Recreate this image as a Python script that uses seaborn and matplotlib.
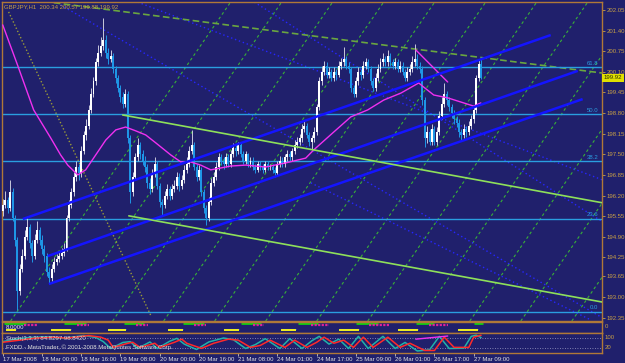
import numpy as np
import pandas as pd
import matplotlib
matplotlib.use("Agg")
import matplotlib.pyplot as plt
import matplotlib.transforms as mtransforms
import seaborn as sns

# ---------------- data ----------------
first_open = 195.70
closes = [
    195.90, 196.05, 195.80, 196.30, 195.50, 194.80, 193.20, 193.90, 194.30, 194.90,
    195.20, 194.70, 194.30, 194.80, 195.10, 194.80, 194.50, 194.30, 193.80, 193.60,
    193.90, 194.10, 194.20, 194.30, 194.40, 194.50, 195.50, 195.90, 196.30, 196.80,
    197.10, 196.90, 197.60, 198.10, 198.40, 198.90, 199.40, 199.80, 200.40, 200.70,
    200.90, 201.10, 200.70, 200.50, 200.60, 200.20, 199.90, 199.60, 199.30, 199.10,
    199.40, 198.00, 196.30, 196.80, 197.40, 197.80, 197.50, 197.30, 197.10, 196.60,
    196.40, 196.90, 197.20, 196.50, 196.00, 195.90, 196.20, 196.40, 196.20, 196.40,
    196.50, 196.80, 196.50, 196.70, 197.00, 197.20, 197.60, 197.80, 197.10, 196.80,
    197.00, 196.30, 195.80, 195.50, 196.00, 196.60, 196.80, 197.10, 197.40, 197.30,
    197.20, 197.40, 197.20, 197.50, 197.70, 197.60, 197.80, 197.50, 197.30, 197.50,
    197.20, 197.30, 197.10, 197.00, 197.20, 197.10, 197.00, 197.20, 197.10, 197.10,
    197.00, 196.90, 197.20, 197.30, 197.20, 197.40, 197.50, 197.40, 197.60, 197.80,
    197.90, 198.00, 198.30, 198.40, 198.10, 197.90, 198.00, 198.20, 199.00, 199.80,
    200.10, 200.30, 200.00, 200.10, 199.90, 200.10, 200.00, 200.30, 200.40, 200.50,
    200.30, 200.20, 199.60, 199.40, 199.80, 200.10, 200.00, 200.30, 200.40, 200.20,
    199.80, 199.60, 199.90, 200.20, 200.40, 200.50, 200.40, 200.60, 200.40, 200.30,
    200.40, 200.20, 200.30, 200.10, 199.90, 200.10, 200.20, 200.40, 200.50, 200.30,
    200.20, 199.20, 198.00, 198.20, 197.90, 198.30, 197.90, 198.20, 198.70, 199.10,
    199.40, 199.20, 199.00, 198.80, 198.60, 198.50, 198.20, 198.10, 198.30, 198.20,
    198.40, 198.60, 198.90, 199.90, 200.34, 199.92,
]
highs = [
    196.10, 196.35, 196.15, 196.69, 196.45, 195.60, 194.90, 194.05, 194.50, 195.10,
    195.50, 195.30, 194.80, 195.00, 195.40, 195.20, 194.95, 194.65, 194.40, 193.95,
    194.05, 194.25, 194.35, 194.45, 194.55, 194.70, 195.60, 196.05, 196.45, 196.95,
    197.30, 197.20, 197.75, 198.25, 198.60, 199.05, 199.60, 199.95, 200.55, 200.95,
    201.20, 201.80, 201.25, 200.85, 200.80, 200.70, 200.30, 200.00, 199.70, 199.45,
    199.55, 199.50, 198.10, 196.95, 197.55, 198.00, 197.90, 197.65, 197.45, 197.20,
    196.75, 197.05, 197.40, 197.30, 196.60, 196.10, 196.35, 196.55, 196.50, 196.55,
    196.70, 196.95, 196.90, 196.85, 197.15, 197.40, 197.75, 198.27, 197.90, 197.20,
    197.15, 197.10, 196.40, 195.90, 196.15, 196.75, 196.95, 197.25, 197.55, 197.50,
    197.40, 197.55, 197.50, 197.65, 197.85, 197.80, 197.90, 197.85, 197.60, 197.60,
    197.55, 197.40, 197.40, 197.20, 197.30, 197.30, 197.20, 197.30, 197.30, 197.20,
    197.20, 197.10, 197.30, 197.45, 197.40, 197.50, 197.65, 197.60, 197.70, 197.95,
    198.05, 198.15, 198.45, 198.55, 198.50, 198.20, 198.10, 198.35, 199.10, 199.95,
    200.30, 200.45, 200.40, 200.25, 200.20, 200.25, 200.20, 200.45, 200.55, 200.88,
    200.60, 200.40, 200.25, 199.70, 199.95, 200.25, 200.20, 200.45, 200.55, 200.50,
    200.30, 199.90, 200.05, 200.35, 200.55, 200.70, 200.60, 200.80, 200.70, 200.50,
    200.55, 200.50, 200.45, 200.40, 200.20, 200.25, 200.35, 200.60, 200.98, 200.65,
    200.40, 200.30, 199.30, 198.40, 198.30, 198.45, 198.40, 198.35, 198.85, 199.30,
    199.75, 199.50, 199.30, 199.10, 198.90, 198.70, 198.60, 198.30, 198.45, 198.40,
    198.55, 198.75, 199.05, 200.00, 200.50, 200.57,
]
lows = [
    195.55, 195.80, 195.65, 195.70, 195.40, 194.60, 192.60, 193.05, 193.80, 194.20,
    194.80, 194.55, 194.10, 194.20, 194.70, 194.65, 194.35, 194.10, 193.65, 193.44,
    193.50, 193.80, 194.00, 194.10, 194.20, 194.30, 194.45, 195.40, 195.80, 196.20,
    196.65, 196.70, 196.80, 197.50, 197.95, 198.30, 198.80, 199.30, 199.70, 200.30,
    200.60, 200.80, 200.55, 200.35, 200.40, 200.05, 199.75, 199.45, 199.15, 198.95,
    199.00, 197.85, 195.97, 196.20, 196.70, 197.30, 197.35, 197.15, 196.95, 196.45,
    196.25, 196.30, 196.80, 196.40, 195.85, 195.59, 195.80, 196.10, 196.05, 196.10,
    196.30, 196.40, 196.35, 196.40, 196.60, 196.90, 197.10, 197.50, 197.00, 196.65,
    196.70, 196.20, 195.65, 195.27, 195.40, 195.90, 196.50, 196.70, 197.00, 197.15,
    197.05, 197.10, 197.10, 197.10, 197.40, 197.45, 197.50, 197.40, 197.20, 197.20,
    197.10, 197.10, 197.00, 196.90, 196.95, 197.00, 196.90, 196.95, 197.00, 197.00,
    196.90, 196.78, 196.85, 197.10, 197.10, 197.10, 197.30, 197.30, 197.30, 197.50,
    197.70, 197.80, 197.90, 198.20, 198.00, 197.75, 197.64, 197.90, 198.10, 198.90,
    199.70, 200.00, 199.90, 199.90, 199.80, 199.80, 199.85, 199.95, 200.20, 200.30,
    200.20, 200.05, 199.45, 199.30, 199.30, 199.70, 199.85, 199.90, 200.20, 200.10,
    199.70, 199.50, 199.50, 199.80, 200.10, 200.30, 200.30, 200.30, 200.30, 200.20,
    200.20, 200.10, 200.10, 200.00, 199.80, 199.80, 200.00, 200.10, 200.30, 200.20,
    200.05, 199.05, 197.73, 197.85, 197.80, 197.80, 197.80, 197.80, 198.10, 198.60,
    199.00, 199.05, 198.85, 198.65, 198.45, 198.35, 198.05, 197.95, 198.00, 198.05,
    198.10, 198.30, 198.50, 198.80, 199.80, 199.88,
]

ma_bars = [0, 3.0, 6.1, 12.6, 19.6, 23.6, 26.5, 30.6, 33.8, 37.9, 42.0, 46.1, 50.1, 54.2,
           58.3, 62.4, 68.5, 72.6, 76.6, 80.7, 84.8, 88.9, 92.9, 99.1, 107.2, 115.4,
           123.5, 126.8, 134.9, 141.9, 148.8, 155.3, 162.3, 169.6, 171.6, 175.7, 181.4,
           186.7, 192.0, 194.9]
ma_vals = [201.58, 200.95, 200.30, 198.90, 198.01, 197.48, 197.16, 196.85, 197.01,
           197.48, 197.95, 198.27, 198.36, 198.24, 198.11, 197.86, 197.48, 197.26,
           197.26, 197.16, 197.01, 197.07, 197.13, 197.16, 197.10, 197.23, 197.38,
           197.64, 198.20, 198.68, 198.90, 199.21, 199.43, 199.75, 199.62, 199.37,
           199.28, 199.15, 199.02, 199.12]

fib_levels = [192.54, 195.47, 197.29, 198.77, 200.25]
fib_labels = ["0.0", "23.6", "38.2", "50.0", "61.8"]

price_ticks = [202.05, 201.40, 200.75, 200.10, 199.45, 198.80, 198.15, 197.50, 196.85,
               196.20, 195.55, 194.90, 194.25, 193.65, 193.00, 192.35]

date_bars = [0, 16, 32, 48, 64, 80, 96, 112, 128, 144, 160, 176, 192]
date_labels = ["17 Mar 2008", "18 Mar 00:00", "18 Mar 16:00", "19 Mar 08:00",
               "20 Mar 00:00", "20 Mar 16:00", "21 Mar 08:00", "24 Mar 01:00",
               "24 Mar 17:00", "25 Mar 09:00", "26 Mar 01:00", "26 Mar 17:00",
               "27 Mar 09:00"]

# drawn objects (bar, price) end points
blue_channel = [((8.2, 195.46), (223.4, 201.26)),
                ((18.3, 194.29), (234.4, 200.13)),
                ((18.8, 193.41), (236.4, 199.24))]
green_channel = [((48.9, 198.74), (244.6, 195.97)),
                 ((51.4, 195.56), (244.6, 192.84))]
green_dash_line = ((20.8, 202.28), (244.6, 200.06))
olive_dotted = ((2.4, 201.99), (60.3, 192.43))
blue_dotted = [((55.0, 202.30), (244.6, 196.69)),
               ((23.6, 202.21), (244.6, 192.34)),
               ((101.1, 202.37), (244.6, 195.37)),
               ((125.6, 196.60), (239.7, 192.28))]
magenta_trend = ((168.4, 200.79), (181.4, 199.78))
grid_top_bars = [92.9, 113.7, 134.5, 155.3, 176.1, 196.9, 217.7, 238.5, 259.3, 280.1,
                 300.9, 321.7]
grid_top_price = 202.30
grid_slope = 0.1121

green_start = [0.4, 24.9, 49.3, 73.4, 97.0, 120.3, 143.9, 168.4, 192.0]
green_end = [9.4, 33.8, 57.5, 81.9, 105.2, 128.4, 152.9, 175.7, 195.7]
magenta_start = [8.6, 30.2, 54.2, 77.9, 101.9, 125.6, 149.2, 173.7]
magenta_end = [14.3, 35.1, 59.1, 82.8, 106.4, 132.9, 157.4, 181.4]
yellow_start = [1.2, 19.6, 42.8, 67.3, 90.1, 113.3, 137.0, 161.0, 185.5]
yellow_end = [5.3, 27.7, 50.1, 73.4, 96.2, 119.4, 145.1, 169.2, 193.6]

stoch_main_bars = [0, 5, 11, 19, 25, 33, 38, 41, 44, 49, 52, 55, 60, 63, 68, 71, 74, 79,
                   84, 90, 94, 99, 103, 107, 113, 117, 122, 126, 129, 133, 137, 141,
                   145, 149, 155, 160, 164, 169, 174, 178, 182, 188, 191, 193, 195]
stoch_main = [60, 75, 85, 90, 80, 97, 85, 60, 18, 55, 60, 18, 58, 18, 62, 80, 45, 12,
              58, 82, 72, 18, 42, 78, 18, 78, 18, 65, 92, 45, 75, 18, 92, 18, 92, 18,
              55, 3, 10, 92, 18, 20, 92, 99, 85]
stoch_sig_bars = [0, 7, 13, 21, 26, 35, 40, 43, 45, 51, 53, 56, 62, 64, 70, 73, 75, 81,
                  86, 92, 96, 101, 105, 109, 115, 119, 124, 128, 131, 135, 139, 143,
                  147, 151, 157, 162, 166, 172, 176, 180, 184, 190, 192, 195]
stoch_sig = [56, 69, 81, 87, 81, 97, 87, 69, 25, 50, 56, 25, 50, 25, 56, 75, 50, 19, 50,
             75, 69, 25, 37, 69, 25, 69, 25, 56, 87, 50, 69, 25, 87, 25, 87, 25, 50, 6,
             6, 87, 25, 25, 87, 98.8]
stoch_trend = ((168.4, 75), (181.4, 94))

title_text = "GBPJPY,H1  200.34 200.57 199.88 199.92"
last_price = 199.92

# ---------------- style ----------------
BG = "#20206c"
BORDER = "#b07838"
GOLD = "#c8a046"
FIB = "#2a9ee0"
BEAR = "#1e96e6"
FS = 4.3

sns.set_theme(style="dark", rc={"axes.facecolor": BG, "figure.facecolor": BG})
plt.rcParams["font.family"] = ["Liberation Sans Narrow", "Liberation Sans", "DejaVu Sans"]

W, H = 625, 363
fig = plt.figure(figsize=(W / 100, H / 100), dpi=100)


def rect(x0, y0, x1, y1):
    return [x0 / W, 1 - y1 / H, (x1 - x0) / W, (y1 - y0) / H]


ax = fig.add_axes(rect(2, 2, 602, 321))
ax_s = fig.add_axes(rect(2, 322, 602, 332.5))
ax_k = fig.add_axes(rect(2, 333, 602, 352.5))

XL = (-0.3, 244.3)
for a in (ax, ax_s, ax_k):
    a.set_facecolor(BG)
    a.grid(False)
    a.set_xlim(*XL)
    for sp in a.spines.values():
        sp.set_color(BORDER)
        sp.set_linewidth(1.0)
        sp.set_visible(True)

# ---------------- main panel ----------------
ax.set_ylim(192.245, 202.302)

for b in grid_top_bars:
    ax.axline((b, grid_top_price), slope=grid_slope, color="#38b038", lw=0.8,
              ls=(0, (2.5, 2.5)), zorder=1)

for (p0, p1) in blue_dotted:
    ax.plot([p0[0], p1[0]], [p0[1], p1[1]], color="#2626ff", lw=1.0,
            ls=(0, (1, 2)), zorder=1)
ax.plot([olive_dotted[0][0], olive_dotted[1][0]], [olive_dotted[0][1], olive_dotted[1][1]],
        color="#9a9a38", lw=1.0, ls=(0, (1, 1.5)), zorder=1)
ax.plot([green_dash_line[0][0], green_dash_line[1][0]],
        [green_dash_line[0][1], green_dash_line[1][1]],
        color="#6aa640", lw=1.2, ls=(0, (4, 2)), zorder=1)

for lvl, lab in zip(fib_levels, fib_labels):
    ax.axhline(lvl, color=FIB, lw=1.0, zorder=2)
    ax.text(242.7, lvl + 0.04, lab, color=FIB, fontsize=FS, ha="right", va="bottom",
            zorder=2)

# candles
opens = [first_open] + closes[:-1]
df = pd.DataFrame({"bar": np.arange(len(closes)), "open": opens, "high": highs,
                   "low": lows, "close": closes})
up = df["close"] >= df["open"]
ax.vlines(df["bar"][up], df["low"][up], df["high"][up], color="#c8c8dc", lw=0.7, zorder=3)
ax.vlines(df["bar"][~up], df["low"][~up], df["high"][~up], color=BEAR, lw=0.7, zorder=3)
body = (df["close"] - df["open"]).abs().clip(lower=0.025)
ax.bar(df["bar"][up], body[up], bottom=df["open"][up], width=0.8, color="white",
       linewidth=0, zorder=3)
ax.bar(df["bar"][~up], body[~up], bottom=df["close"][~up], width=0.8, color=BEAR,
       linewidth=0, zorder=3)

sns.lineplot(x=ma_bars, y=ma_vals, ax=ax, color="#f030f0", lw=1.0, zorder=4)
ax.plot([magenta_trend[0][0], magenta_trend[1][0]], [magenta_trend[0][1], magenta_trend[1][1]],
        color="#f030f0", lw=1.0, zorder=4)

for (p0, p1) in blue_channel:
    ax.plot([p0[0], p1[0]], [p0[1], p1[1]], color="#1414ff", lw=1.8, zorder=5,
            solid_capstyle="butt")
for (p0, p1) in green_channel:
    ax.plot([p0[0], p1[0]], [p0[1], p1[1]], color="#8ee05a", lw=1.2, zorder=5)

ax.yaxis.tick_right()
ax.set_yticks(price_ticks)
ax.set_yticklabels([f"{v:.2f}" for v in price_ticks])
ax.tick_params(axis="y", which="both", right=True, length=2, width=0.6, color=GOLD,
               labelcolor=GOLD, labelsize=FS, pad=1.2, direction="out")
ax.tick_params(axis="x", bottom=False, labelbottom=False)
ax.set_xlabel("")
ax.set_ylabel("")

ax.text(0.004, 0.985, title_text, transform=ax.transAxes, color=GOLD, fontsize=FS,
        ha="left", va="center")

trans = mtransforms.blended_transform_factory(ax.transAxes, ax.transData)
ax.text(1.003, last_price, f"{last_price:.2f}", transform=trans, color="#303000",
        fontsize=FS, ha="left", va="center",
        bbox=dict(boxstyle="square,pad=0.25", fc="#e0e000", ec="none"), clip_on=False)

# ---------------- session panel ----------------
ax_s.set_ylim(0, 1)
ax_s.hlines([0.86] * len(green_start), green_start, green_end, color="#10d010", lw=2.0)
ax_s.hlines([0.68] * len(magenta_start), magenta_start, magenta_end, color="#e0209a",
            lw=1.6, linestyles=(0, (1, 0.6)))
ax_s.hlines([0.36] * len(yellow_start), yellow_start, yellow_end, color="#3c3cff", lw=0.8)
ax_s.hlines([0.22] * len(yellow_start), yellow_start, yellow_end, color="#f0f020", lw=1.4)
ax_s.text(0.006, 0.5, "8.0000", transform=ax_s.transAxes, color="#e8e8e8", fontsize=FS,
          ha="left", va="center")
ax_s.text(1.005, 0.6, "0", transform=ax_s.transAxes, color=GOLD, fontsize=FS,
          ha="left", va="center", clip_on=False)
ax_s.set_xticks([])
ax_s.set_yticks([])

# ---------------- stochastic panel ----------------
ax_k.set_ylim(-6.25, 112.5)
ax_k.axhline(80, color="#a0a0c8", lw=0.6, ls=(0, (1, 2)))
ax_k.axhline(20, color="#a0a0c8", lw=0.6, ls=(0, (1, 2)))
sns.lineplot(x=stoch_main_bars, y=stoch_main, ax=ax_k, color="#20b2aa", lw=1.1)
sns.lineplot(x=stoch_sig_bars, y=stoch_sig, ax=ax_k, color="#ff2a2a", lw=1.1)
ax_k.plot([stoch_trend[0][0], stoch_trend[1][0]], [stoch_trend[0][1], stoch_trend[1][1]],
          color="#f030f0", lw=1.0)
ax_k.text(0.006, 0.74, "Stoch(3,3,3) 84.8297 98.8420", transform=ax_k.transAxes,
          color="#d8d8d8", fontsize=FS, ha="left", va="center")
ax_k.text(0.006, 0.27, "FXDD - MetaTrader, \u00a9 2001-2008 MetaQuotes Software Corp.",
          transform=ax_k.transAxes, color="#d8d8d8", fontsize=FS, ha="left", va="center")
ax_k.text(1.005, 0.78, "100", transform=ax_k.transAxes, color=GOLD, fontsize=FS,
          ha="left", va="center", clip_on=False)
ax_k.text(1.005, 0.24, "20", transform=ax_k.transAxes, color=GOLD, fontsize=FS,
          ha="left", va="center", clip_on=False)
ax_k.set_yticks([])
ax_k.set_xticks(date_bars)
ax_k.set_xticklabels(date_labels)
ax_k.tick_params(axis="x", bottom=True, length=2.5, width=0.6, color="#c8c8c8",
                 labelcolor="#e0e0e0", labelsize=FS, pad=1)
for lab in ax_k.get_xticklabels():
    lab.set_ha("left")
ax_k.set_xlabel("")
ax_k.set_ylabel("")

fig.savefig("out.png", dpi=100, facecolor=BG)
